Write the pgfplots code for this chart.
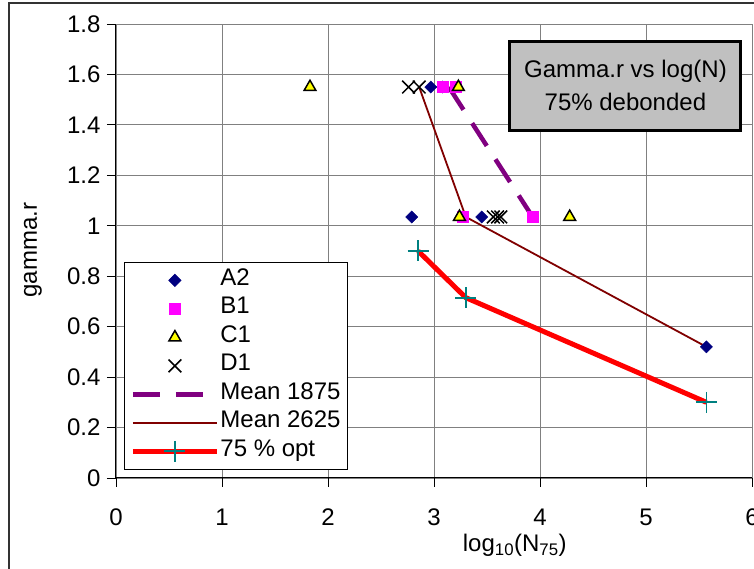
\documentclass[border=0pt]{standalone}
\usepackage{pgfplots}
\pgfplotsset{compat=1.18}
\usepackage{fontspec}
\setmainfont{Liberation Sans}
\usetikzlibrary{plotmarks}

\definecolor{gridgray}{RGB}{128,128,128}
\definecolor{boxgray}{RGB}{192,192,192}
\definecolor{aNavy}{RGB}{0,0,128}
\definecolor{bMagenta}{RGB}{255,0,255}
\definecolor{cYellow}{RGB}{255,255,0}
\definecolor{mPurple}{RGB}{128,0,128}
\definecolor{mDarkred}{RGB}{128,0,0}
\definecolor{optTeal}{RGB}{0,128,128}

\begin{document}
\begin{tikzpicture}
\begin{axis}[
  at={(0,0)}, anchor=south west,
  scale only axis, width=636pt, height=454pt,
  xmin=0, xmax=6, ymin=0, ymax=1.8,
  xtick={0,1,2,3,4,5,6},
  ytick={0,0.2,0.4,0.6,0.8,1,1.2,1.4,1.6,1.8},
  axis x line*=bottom, axis y line*=left,
  axis line style={-, black, line width=1pt},
  grid=major,
  major grid style={gridgray, line width=0.8pt},
  tick align=outside, major tick length=9pt,
  tick style={black, line width=0.8pt},
  font=\fontsize{24}{28}\selectfont,
  /pgf/number format/assume math mode=true,
  yticklabel style={/pgf/number format/fixed, /pgf/number format/precision=1, xshift=-3pt},
  xticklabel style={yshift=-18pt},
  xlabel={log\textsubscript{10}(N\textsubscript{75})},
  xlabel style={at={(axis description cs:0.627,-0.148)}, anchor=center},
  ylabel={gamma.r},
  ylabel style={at={(axis description cs:-0.1305,0.502)}, anchor=center},
  legend cell align=left,
  legend style={at={(axis description cs:0.0126,0.0176)}, anchor=south west,
    draw=black, line width=0.8pt, fill=white,
    font=\fontsize{24}{28}\selectfont,
    inner xsep=6pt, inner ysep=4pt,
    row sep=0pt,
    nodes={inner sep=1pt, text height=18pt, text depth=8.5pt}},
  legend image code/.code={\draw[mark repeat=2,mark phase=2,#1]
    plot coordinates {(0pt,0pt) (42pt,0pt) (84pt,0pt)};},
]
% A2
\addplot[only marks, mark=square*, mark size=4.3pt,
  mark options={rotate=45, fill=aNavy, draw=aNavy}] coordinates {
  (2.79,1.035) (2.97,1.55) (3.08,1.55) (3.45,1.035) (5.57,0.52)
};
\addlegendentry{A2}
% B1
\addplot[only marks, mark=square*, mark size=5.5pt,
  mark options={fill=bMagenta, draw=bMagenta}] coordinates {
  (3.08,1.55) (3.2,1.55) (3.27,1.035) (3.93,1.035)
};
\addlegendentry{B1}
% C1
\addplot[only marks, mark=triangle*, mark size=6.8pt,
  mark options={fill=cYellow, draw=black, line width=1.5pt}] coordinates {
  (1.83,1.55) (3.23,1.55) (3.24,1.035) (4.28,1.035)
};
\addlegendentry{C1}
% D1
\addplot[only marks, mark=x, mark size=9pt,
  mark options={draw=black, line width=1.5pt}] coordinates {
  (2.76,1.55) (2.86,1.55) (3.56,1.035) (3.6,1.035) (3.63,1.035)
};
\addlegendentry{D1}
% Mean 1875
\addplot[mPurple, line width=4.5pt, dash pattern=on 27pt off 16pt, no marks] coordinates {
  (3.14,1.55) (3.93,1.035)
};
\addlegendentry{Mean 1875}
% Mean 2625
\addplot[mDarkred, line width=1.8pt, no marks] coordinates {
  (2.86,1.55) (3.3,1.035) (5.57,0.52)
};
\addlegendentry{Mean 2625}
% 75 % opt
\addplot[red, line width=5pt, mark=+, mark size=10.5pt,
  mark options={draw=optTeal, line width=1.8pt}] coordinates {
  (2.85,0.9) (3.3,0.715) (5.57,0.3)
};
\addlegendentry{75 \% opt}

\node[draw=black, line width=3pt, fill=boxgray, align=center,
  minimum width=231pt, minimum height=89pt, inner sep=0pt,
  font=\fontsize{24}{33}\selectfont]
  at (axis description cs:0.801,0.8645) {Gamma.r vs log(N)\\75\% debonded};
\end{axis}
\draw[line width=1.2pt, black!80] (-107pt,-95pt) -- (-107pt,475pt) -- (645pt,475pt);
\pgfresetboundingbox
\useasboundingbox (-116pt,-91pt) rectangle (638pt,478pt);
\end{tikzpicture}
\end{document}
